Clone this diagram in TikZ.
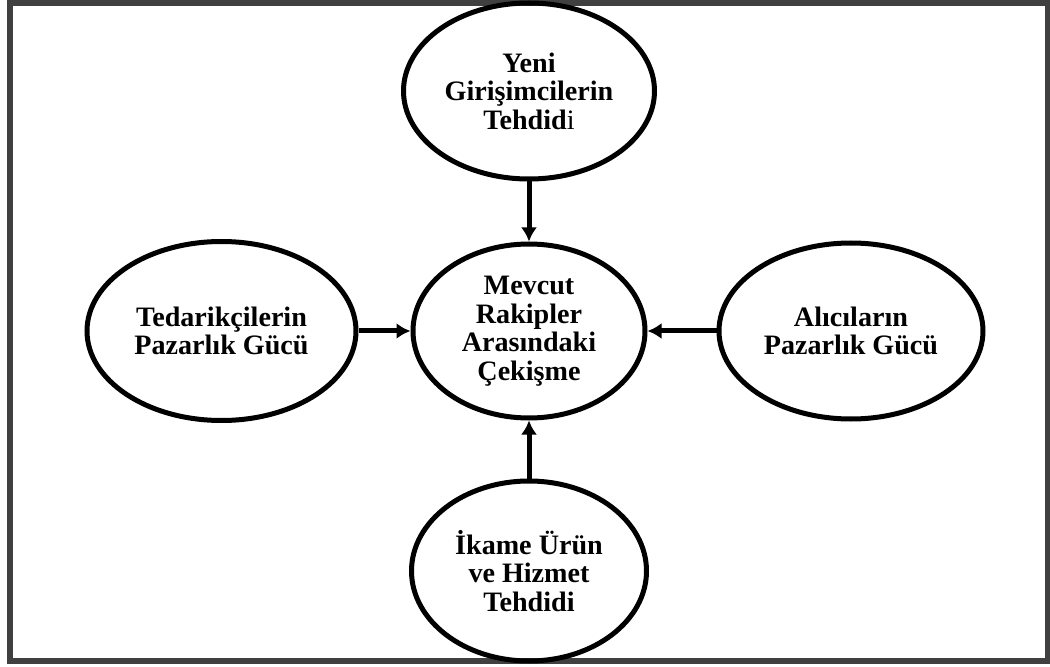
\documentclass[tikz,border=0pt]{standalone}
\usepackage{fontspec}
\setmainfont{Liberation Serif}
\usepackage{tikz}
\usetikzlibrary{shapes.geometric,arrows.meta,positioning}

\begin{document}
\begin{tikzpicture}[
  force/.style={ellipse, draw, line width=0.1cm, inner sep=0pt, align=center, font=\fontsize{16}{16.2}\selectfont\bfseries},
  arrow/.style={-{Latex[length=0.28cm, width=0.32cm]}, line width=0.1cm}
]
  \useasboundingbox (0,0) rectangle (21,-13.34);
  \draw[line width=0.12cm, black!75] (0.2,-0.06) rectangle (20.96,-13.22);

  \node[force, minimum width=4.64cm, minimum height=3.48cm] (rivalry) at (10.58,-6.62) {Mevcut\\Rakipler\\Arasındaki\\Çekişme};
  \node[force, minimum width=5.02cm, minimum height=3.52cm, above=1.2cm of rivalry] (entrants) {Yeni\\Girişimcilerin\\Tehdid{\mdseries i}};
  \node[force, minimum width=5.38cm, minimum height=3.58cm, left=1.04cm of rivalry] (suppliers) {Tedarikçilerin\\Pazarlık Gücü};
  \node[force, minimum width=5.28cm, minimum height=3.52cm, right=1.38cm of rivalry] (buyers) {Alıcıların\\Pazarlık Gücü};
  \node[force, minimum width=4.7cm, minimum height=3.6cm, below=1.16cm of rivalry] (substitutes) {İkame Ürün\\ve Hizmet\\Tehdidi};

  \draw[arrow] (entrants) -- (rivalry);
  \draw[arrow] (suppliers) -- (rivalry);
  \draw[arrow] (buyers) -- (rivalry);
  \draw[arrow] (substitutes) -- (rivalry);
\end{tikzpicture}
\end{document}
